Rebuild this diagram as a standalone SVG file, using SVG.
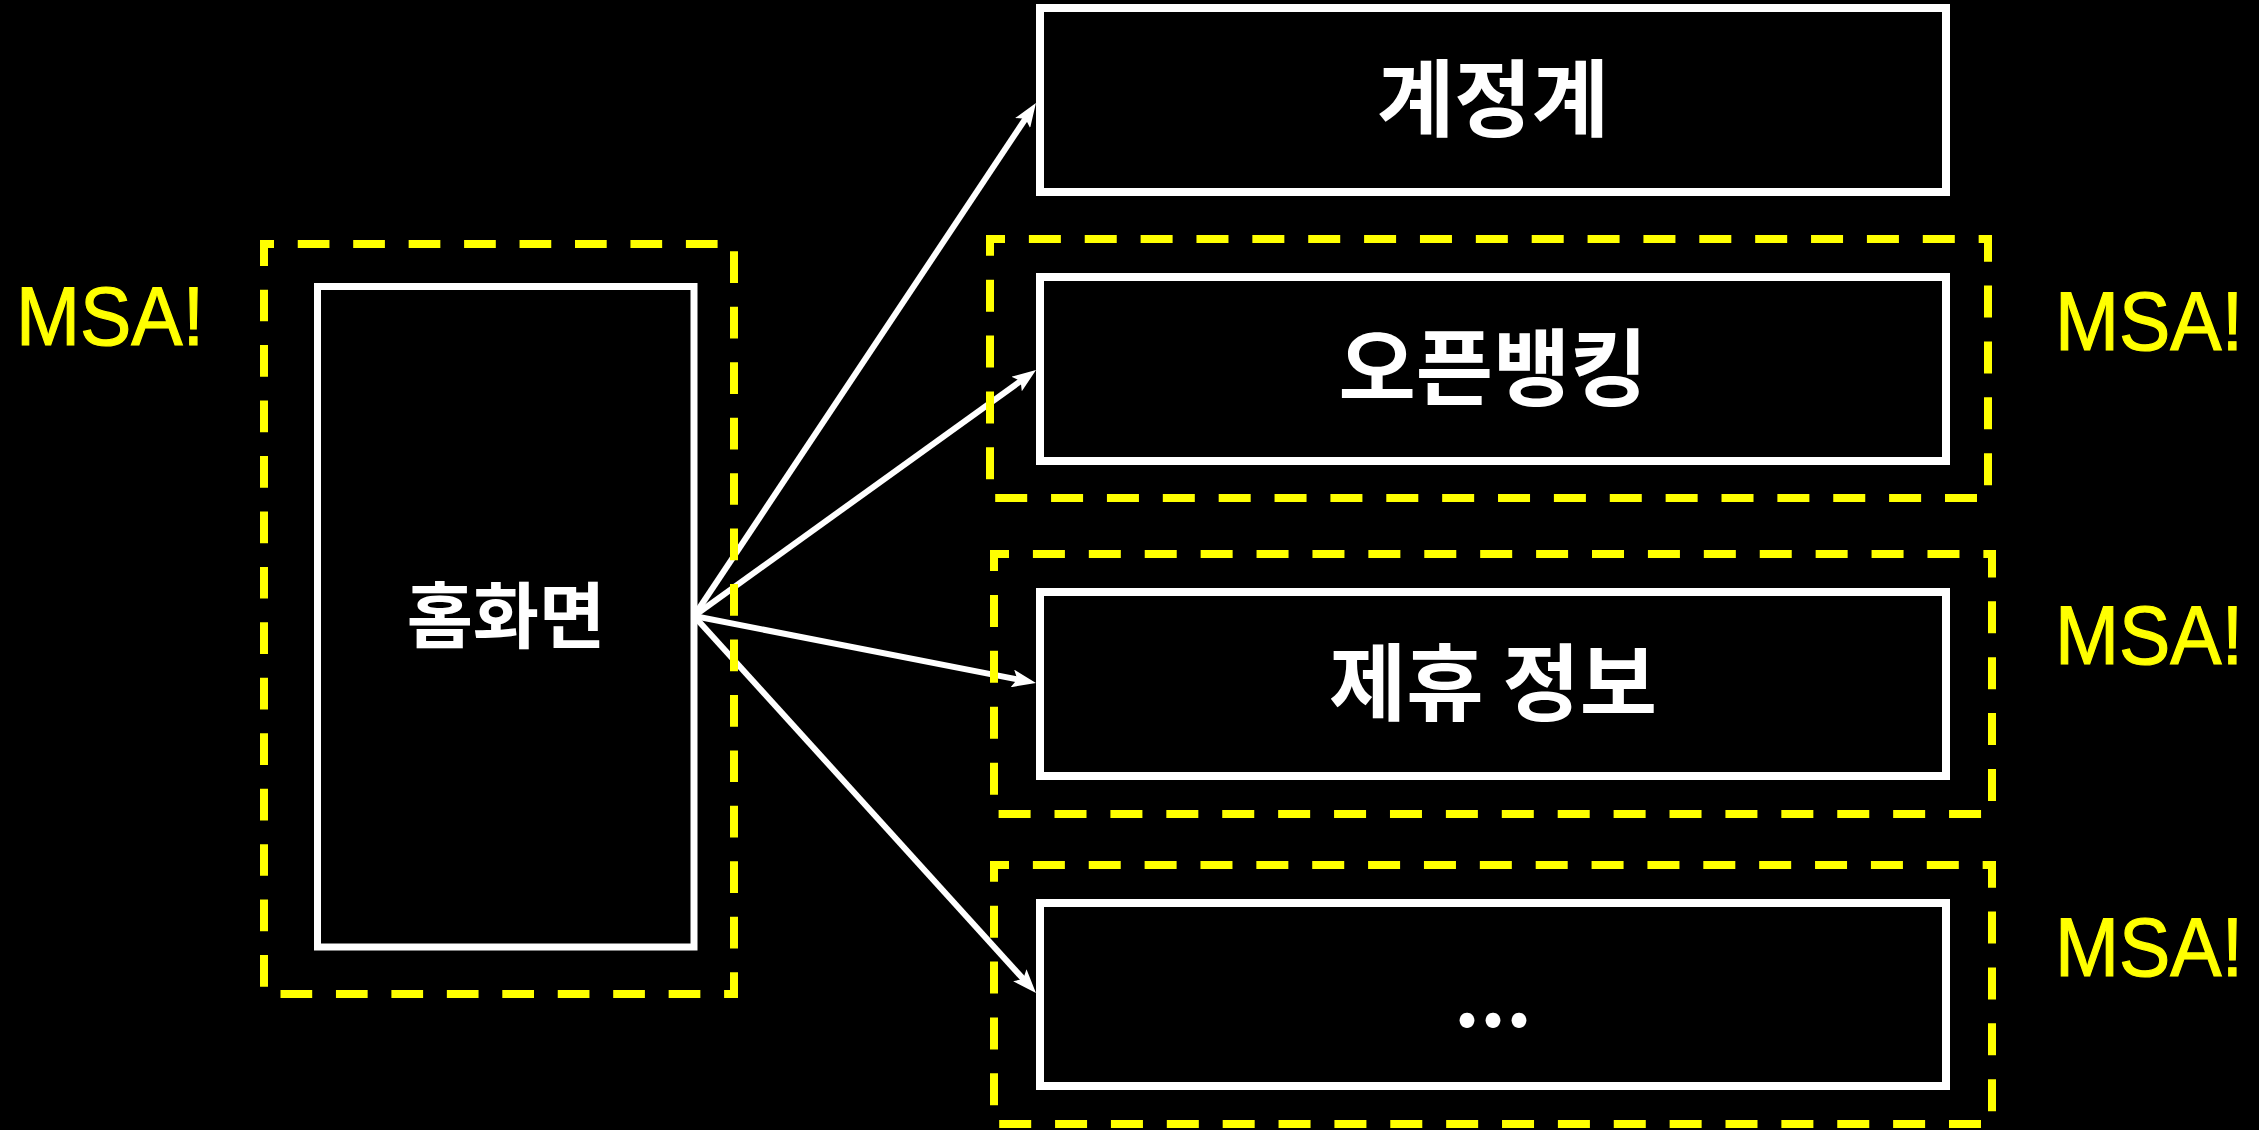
<svg xmlns="http://www.w3.org/2000/svg" width="2259" height="1130" viewBox="0 0 2259 1130">
  <defs>
    <style>
      .bg { fill: #000000; }
      .node { fill: #000000; stroke: #FFFFFF; stroke-width: 8; }
      .label { fill: #FFFFFF; font-family: "Noto Sans CJK KR", "Noto Sans", sans-serif; font-weight: 700; text-anchor: middle; }
      .edge { fill: none; stroke: #FFFFFF; stroke-width: 6; }
      .msa-box { fill: none; stroke: #FFFF00; stroke-width: 8; }
      .msa { fill: #FFFF00; stroke: #FFFF00; stroke-width: 1.2; font-family: "Liberation Sans", Arial, sans-serif; font-size: 83px; }
    </style>
    <marker id="arrow" markerUnits="userSpaceOnUse" viewBox="0 0 24 18" markerWidth="24" markerHeight="18" refX="12" refY="9" orient="auto">
      <path d="M0,0 L24,9 L0,18 L5,9 Z" fill="#FFFFFF"/>
    </marker>
  </defs>
  <rect class="bg" x="0" y="0" width="2259" height="1130"/>

  <g id="connectors">
    <line class="edge" x1="694" y1="616" x2="1029.3" y2="113.0" marker-end="url(#arrow)"/>
    <line class="edge" x1="694" y1="616" x2="1026.3" y2="377.0" marker-end="url(#arrow)"/>
    <line class="edge" x1="694" y1="616" x2="1024.2" y2="680.7" marker-end="url(#arrow)"/>
    <line class="edge" x1="694" y1="616" x2="1027.9" y2="984.1" marker-end="url(#arrow)"/>
  </g>

  <g id="node-home">
    <rect class="node" x="317.5" y="286.5" width="376.5" height="660.5" style="stroke-width:7"/>
    <text class="label" x="506" y="642" font-size="72">홈화면</text>
  </g>
  <g id="node-account">
    <rect class="node" x="1040" y="8" width="906" height="184"/>
    <text class="label" x="1493" y="130" font-size="84">계정계</text>
  </g>
  <g id="node-openbanking">
    <rect class="node" x="1040" y="277" width="906" height="184"/>
    <text class="label" x="1493" y="399" font-size="84">오픈뱅킹</text>
  </g>
  <g id="node-partner">
    <rect class="node" x="1040" y="592" width="906" height="184"/>
    <text class="label" x="1493" y="714" font-size="84">제휴 정보</text>
  </g>
  <g id="node-more">
    <rect class="node" x="1040" y="903" width="906" height="183"/>
    <text class="label" x="1493" y="1027" font-size="80">...</text>
  </g>

  <g id="msa-home">
    <rect class="msa-box" x="264" y="244" width="470" height="750" stroke-dasharray="31.7 23.75" stroke-dashoffset="21.7"/>
    <text class="msa" x="16" y="345" textLength="188" lengthAdjust="spacingAndGlyphs">MSA!</text>
  </g>
  <g id="msa-openbanking">
    <rect class="msa-box" x="990" y="239" width="998" height="259" stroke-dasharray="32 23.87" stroke-dashoffset="17"/>
    <text class="msa" x="2055" y="350" textLength="188" lengthAdjust="spacingAndGlyphs">MSA!</text>
  </g>
  <g id="msa-partner">
    <rect class="msa-box" x="994" y="554" width="998" height="260" stroke-dasharray="32 23.91" stroke-dashoffset="17"/>
    <text class="msa" x="2055" y="664" textLength="188" lengthAdjust="spacingAndGlyphs">MSA!</text>
  </g>
  <g id="msa-more">
    <rect class="msa-box" x="994" y="865" width="998" height="259" stroke-dasharray="32 23.87" stroke-dashoffset="17"/>
    <text class="msa" x="2055" y="976" textLength="188" lengthAdjust="spacingAndGlyphs">MSA!</text>
  </g>
</svg>
